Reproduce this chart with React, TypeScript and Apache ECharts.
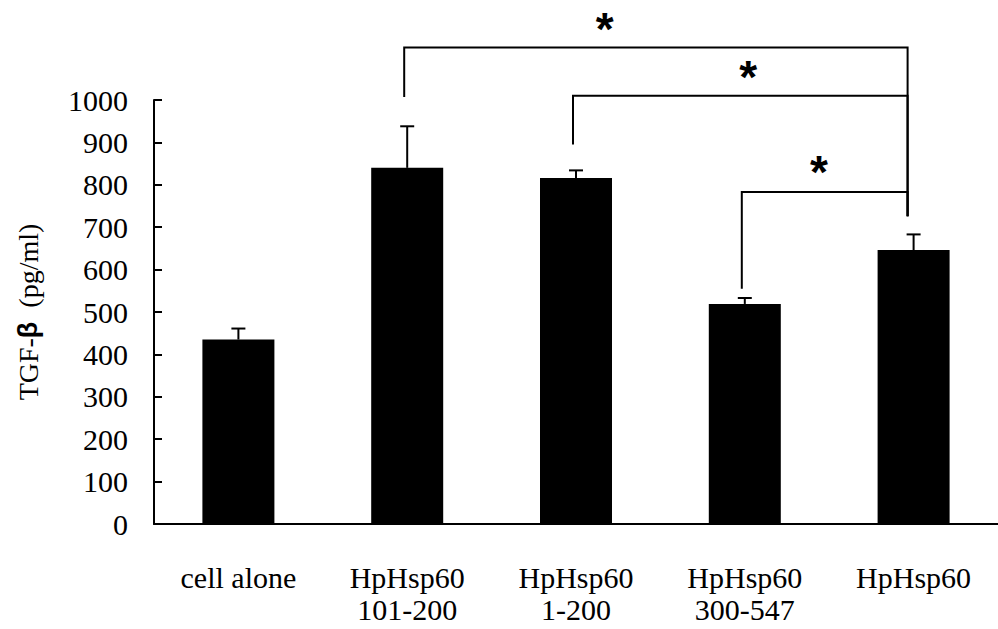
import React, { useEffect, useRef } from "react";
import * as echarts from "echarts";

// Groups along the x axis
const categories = [
  "cell alone",
  "HpHsp60\n101-200",
  "HpHsp60\n1-200",
  "HpHsp60\n300-547",
  "HpHsp60",
];

// Mean TGF-β (pg/ml) and upper end of the error bar
const means = [435, 840, 816, 519, 646];
const upper = [461, 938, 834, 533, 683];

// Significance brackets: left group, right group, bar level, feet levels
const bracketLeft = [1, 2, 3];
const bracketRight = [4, 4, 4];
const bracketLevel = [1124, 1010, 783];
const bracketLeftFoot = [1007, 895, 555];
const bracketRightFoot = [726, 726, 726];
// Asterisk placement: position along the category axis and value level
const starPos = [2.17, 3.02, 3.44];
const starLevel = [1182, 1069, 844];

const yTicks = { min: 0, max: 1000, interval: 100 };

const SERIF = "'Liberation Serif', 'Times New Roman', serif";
const SANS = "'Liberation Sans', Arial, sans-serif";

export default function App() {
  const ref = useRef<HTMLDivElement>(null);

  useEffect(() => {
    if (!ref.current) return;
    const chart = echarts.init(ref.current, undefined, { renderer: "svg" });

    const errorData = means.map((m, i) => [i, m, upper[i]]);
    const bracketData = bracketLeft.map((l, i) => [
      l,
      bracketRight[i],
      bracketLevel[i],
      bracketLeftFoot[i],
      bracketRightFoot[i],
      starPos[i],
      starLevel[i],
    ]);

    chart.setOption({
      animation: false,
      backgroundColor: "#fff",
      grid: { left: 154, right: -6, top: 100, bottom: 105, containLabel: false },
      xAxis: {
        type: "category",
        data: categories,
        axisLine: { lineStyle: { color: "#000", width: 2 } },
        axisTick: { inside: true, length: 8, lineStyle: { color: "#000", width: 2 } },
        axisLabel: {
          color: "#000",
          fontFamily: SERIF,
          fontSize: 30,
          lineHeight: 32,
          margin: 37,
          interval: 0,
        },
      },
      yAxis: {
        type: "value",
        min: yTicks.min,
        max: yTicks.max,
        interval: yTicks.interval,
        splitLine: { show: false },
        axisLine: { show: true, lineStyle: { color: "#000", width: 2 } },
        axisTick: { show: true, inside: true, length: 8, lineStyle: { color: "#000", width: 2 } },
        axisLabel: {
          color: "#000",
          fontFamily: SERIF,
          fontSize: 30,
          margin: 26,
          formatter: (v: number) => String(v),
        },
        name: "{a|TGF-}{b|β}{a|  (pg/ml)}",
        nameLocation: "middle",
        nameGap: 112,
        nameRotate: 90,
        nameTextStyle: {
          color: "#000",
          rich: {
            a: { fontFamily: SERIF, fontSize: 28, color: "#000" },
            b: { fontFamily: SANS, fontWeight: "bold", fontSize: 27, color: "#000" },
          },
        },
      },
      series: [
        {
          type: "bar",
          data: means,
          barWidth: 72,
          itemStyle: { color: "#000" },
        },
        {
          type: "custom",
          data: errorData,
          encode: { x: 0, y: [1, 2] },
          clip: false,
          z: 3,
          renderItem: (_params: any, api: any) => {
            const base = api.coord([api.value(0), api.value(1)]);
            const top = api.coord([api.value(0), api.value(2)]);
            const style = { stroke: "#000", lineWidth: 2 };
            return {
              type: "group",
              children: [
                { type: "line", shape: { x1: base[0], y1: base[1], x2: base[0], y2: top[1] }, style },
                { type: "line", shape: { x1: base[0] - 7, y1: top[1], x2: base[0] + 7, y2: top[1] }, style },
              ],
            };
          },
        },
        {
          type: "custom",
          data: bracketData,
          encode: { x: 0, y: 2 },
          clip: false,
          z: 4,
          renderItem: (_params: any, api: any) => {
            const band = api.size([1, 0])[0];
            const lx = api.coord([api.value(0), 0])[0] - 3;
            const rx = api.coord([api.value(1), 0])[0] - 6;
            const y = api.coord([0, api.value(2)])[1];
            const lf = api.coord([0, api.value(3)])[1];
            const rf = api.coord([0, api.value(4)])[1];
            const sx = api.coord([0, 0])[0] + api.value(5) * band;
            const sy = api.coord([0, api.value(6)])[1];
            return {
              type: "group",
              children: [
                {
                  type: "polyline",
                  shape: { points: [[lx, lf], [lx, y], [rx, y], [rx, rf]] },
                  style: { stroke: "#000", lineWidth: 2, fill: null },
                },
                {
                  type: "text",
                  x: sx,
                  y: sy + 6,
                  style: {
                    text: "*",
                    fontFamily: SANS,
                    fontWeight: "bold",
                    fontSize: 46,
                    fill: "#000",
                    align: "center",
                    verticalAlign: "middle",
                  },
                },
              ],
            };
          },
        },
      ],
    });

    return () => chart.dispose();
  }, []);

  return (
    <div
      ref={ref}
      style={{ position: "fixed", left: 0, top: 0, width: 998, height: 629, background: "#fff" }}
    />
  );
}
